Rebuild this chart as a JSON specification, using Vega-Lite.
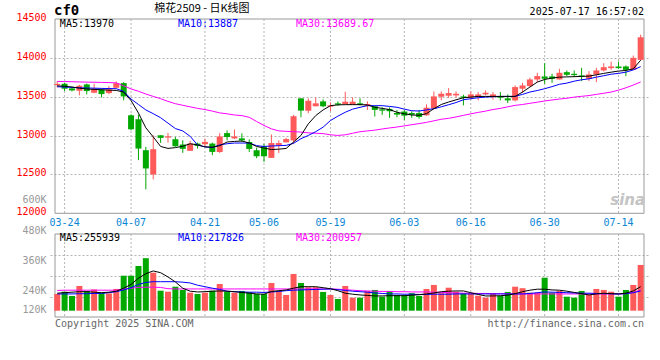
{
"$schema": "https://vega.github.io/schema/vega-lite/v6.json",
"width": 599, "height": 298, "autosize": "none",
"padding": {"left": 50, "top": 19, "right": 11, "bottom": 43},
"background": "white",
"config": {"view": {"stroke": null}},
"datasets": {"kline": [
{"d":"03-21","k":0,"o":13650,"h":13700,"l":13620,"c":13665,"v":227000,"m5":13640,"m10":13628,"m30":13697,"vm5":230000,"vm10":227000,"vm30":241000},
{"d":"03-24","k":1,"o":13667,"h":13680,"l":13573,"c":13603,"v":236000,"m5":13635,"m10":13625,"m30":13695,"vm5":232000,"vm10":227000,"vm30":242000},
{"d":"03-25","k":2,"o":13607,"h":13624,"l":13568,"c":13581,"v":219000,"m5":13625,"m10":13620,"m30":13693,"vm5":234000,"vm10":227000,"vm30":242000},
{"d":"03-26","k":3,"o":13577,"h":13654,"l":13517,"c":13641,"v":259000,"m5":13610,"m10":13615,"m30":13690,"vm5":236000,"vm10":228000,"vm30":242000},
{"d":"03-27","k":4,"o":13658,"h":13670,"l":13530,"c":13573,"v":239000,"m5":13600,"m10":13612,"m30":13688,"vm5":236000,"vm10":228000,"vm30":242000},
{"d":"03-28","k":5,"o":13551,"h":13667,"l":13545,"c":13603,"v":245000,"m5":13594,"m10":13610,"m30":13686,"vm5":234000,"vm10":229000,"vm30":242000},
{"d":"03-31","k":6,"o":13590,"h":13603,"l":13491,"c":13534,"v":232000,"m5":13590,"m10":13607,"m30":13684,"vm5":232000,"vm10":229000,"vm30":242000},
{"d":"04-01","k":7,"o":13547,"h":13637,"l":13534,"c":13594,"v":229000,"m5":13585,"m10":13605,"m30":13682,"vm5":234000,"vm10":232000,"vm30":242000},
{"d":"04-02","k":8,"o":13615,"h":13697,"l":13603,"c":13675,"v":247000,"m5":13581,"m10":13603,"m30":13678,"vm5":238000,"vm10":236000,"vm30":242000},
{"d":"04-03","k":9,"o":13675,"h":13688,"l":13453,"c":13504,"v":300000,"m5":13560,"m10":13570,"m30":13640,"vm5":250000,"vm10":243000,"vm30":246000},
{"d":"04-07","k":10,"o":13261,"h":13274,"l":13068,"c":13081,"v":300000,"m5":13450,"m10":13470,"m30":13600,"vm5":265000,"vm10":252000,"vm30":250000},
{"d":"04-08","k":11,"o":13210,"h":13269,"l":12684,"c":12833,"v":339000,"m5":13290,"m10":13400,"m30":13570,"vm5":290000,"vm10":265000,"vm30":253000},
{"d":"04-09","k":12,"o":12812,"h":12855,"l":12308,"c":12577,"v":370000,"m5":13100,"m10":13330,"m30":13535,"vm5":308000,"vm10":273000,"vm30":254000},
{"d":"04-10","k":13,"o":12500,"h":13004,"l":12436,"c":12825,"v":312000,"m5":12983,"m10":13282,"m30":13504,"vm5":319000,"vm10":276000,"vm30":254000},
{"d":"04-11","k":14,"o":13004,"h":13004,"l":12906,"c":12970,"v":240000,"m5":12860,"m10":13230,"m30":13475,"vm5":312000,"vm10":276000,"vm30":253000},
{"d":"04-14","k":15,"o":12974,"h":13034,"l":12910,"c":12991,"v":236000,"m5":12835,"m10":13160,"m30":13440,"vm5":295000,"vm10":276000,"vm30":248000},
{"d":"04-15","k":16,"o":12953,"h":12983,"l":12855,"c":12863,"v":256000,"m5":12845,"m10":13090,"m30":13410,"vm5":275000,"vm10":276000,"vm30":247000},
{"d":"04-16","k":17,"o":12885,"h":12940,"l":12778,"c":12829,"v":243000,"m5":12863,"m10":13060,"m30":13390,"vm5":250000,"vm10":274000,"vm30":247000},
{"d":"04-17","k":18,"o":12804,"h":12932,"l":12804,"c":12897,"v":232000,"m5":12895,"m10":12990,"m30":13370,"vm5":238000,"vm10":271000,"vm30":247000},
{"d":"04-18","k":19,"o":12897,"h":12910,"l":12833,"c":12867,"v":227000,"m5":12880,"m10":12880,"m30":13350,"vm5":235000,"vm10":262000,"vm30":247000},
{"d":"04-21","k":20,"o":12889,"h":12961,"l":12855,"c":12919,"v":232000,"m5":12855,"m10":12855,"m30":13335,"vm5":236000,"vm10":256000,"vm30":247000},
{"d":"04-22","k":21,"o":12897,"h":12910,"l":12748,"c":12790,"v":240000,"m5":12850,"m10":12846,"m30":13315,"vm5":238000,"vm10":250000,"vm30":247000},
{"d":"04-23","k":22,"o":12789,"h":13032,"l":12777,"c":12989,"v":267000,"m5":12870,"m10":12880,"m30":13292,"vm5":239000,"vm10":245000,"vm30":247000},
{"d":"04-24","k":23,"o":13032,"h":13066,"l":12938,"c":12981,"v":236000,"m5":12917,"m10":12895,"m30":13280,"vm5":238000,"vm10":238000,"vm30":247000},
{"d":"04-25","k":24,"o":12964,"h":13079,"l":12955,"c":12989,"v":232000,"m5":12925,"m10":12904,"m30":13265,"vm5":236000,"vm10":236000,"vm30":247000},
{"d":"04-28","k":25,"o":12964,"h":13028,"l":12917,"c":12938,"v":239000,"m5":12930,"m10":12904,"m30":13257,"vm5":233000,"vm10":235000,"vm30":247000},
{"d":"04-29","k":26,"o":12917,"h":12951,"l":12789,"c":12828,"v":234000,"m5":12905,"m10":12904,"m30":13235,"vm5":230000,"vm10":234000,"vm30":247000},
{"d":"04-30","k":27,"o":12811,"h":12845,"l":12709,"c":12734,"v":227000,"m5":12860,"m10":12870,"m30":13181,"vm5":227000,"vm10":234000,"vm30":247000},
{"d":"05-06","k":28,"o":12862,"h":12896,"l":12662,"c":12734,"v":227000,"m5":12840,"m10":12860,"m30":13130,"vm5":226000,"vm10":233000,"vm30":247000},
{"d":"05-07","k":29,"o":12713,"h":13015,"l":12713,"c":12904,"v":271000,"m5":12820,"m10":12866,"m30":13087,"vm5":237000,"vm10":235000,"vm30":247000},
{"d":"05-08","k":30,"o":12874,"h":12938,"l":12777,"c":12904,"v":240000,"m5":12825,"m10":12870,"m30":13060,"vm5":240000,"vm10":237000,"vm30":247000},
{"d":"05-09","k":31,"o":12913,"h":12972,"l":12913,"c":12955,"v":223000,"m5":12835,"m10":12874,"m30":13055,"vm5":243000,"vm10":240000,"vm30":247000},
{"d":"05-12","k":32,"o":12938,"h":13266,"l":12896,"c":13249,"v":307000,"m5":12917,"m10":12900,"m30":13050,"vm5":250000,"vm10":242000,"vm30":247000},
{"d":"05-13","k":33,"o":13479,"h":13479,"l":13236,"c":13321,"v":271000,"m5":13002,"m10":12960,"m30":13045,"vm5":256000,"vm10":243000,"vm30":247000},
{"d":"05-14","k":34,"o":13321,"h":13479,"l":13287,"c":13449,"v":254000,"m5":13151,"m10":13002,"m30":13035,"vm5":256000,"vm10":244000,"vm30":247000},
{"d":"05-15","k":35,"o":13377,"h":13491,"l":13377,"c":13415,"v":254000,"m5":13257,"m10":13050,"m30":13030,"vm5":256000,"vm10":245000,"vm30":247000},
{"d":"05-16","k":36,"o":13440,"h":13466,"l":13364,"c":13377,"v":235000,"m5":13330,"m10":13108,"m30":13025,"vm5":252000,"vm10":246000,"vm30":247000},
{"d":"05-19","k":37,"o":13372,"h":13428,"l":13313,"c":13389,"v":223000,"m5":13385,"m10":13194,"m30":13010,"vm5":248000,"vm10":247000,"vm30":247000},
{"d":"05-20","k":38,"o":13415,"h":13440,"l":13385,"c":13398,"v":207000,"m5":13395,"m10":13250,"m30":13002,"vm5":240000,"vm10":244000,"vm30":246000},
{"d":"05-21","k":39,"o":13406,"h":13564,"l":13406,"c":13436,"v":259000,"m5":13398,"m10":13300,"m30":13010,"vm5":230000,"vm10":241000,"vm30":244000},
{"d":"05-22","k":40,"o":13398,"h":13491,"l":13398,"c":13436,"v":212000,"m5":13398,"m10":13340,"m30":13030,"vm5":226000,"vm10":238000,"vm30":242000},
{"d":"05-23","k":41,"o":13415,"h":13479,"l":13390,"c":13398,"v":212000,"m5":13398,"m10":13364,"m30":13050,"vm5":223000,"vm10":236000,"vm30":240000},
{"d":"05-26","k":42,"o":13385,"h":13440,"l":13330,"c":13406,"v":239000,"m5":13394,"m10":13385,"m30":13060,"vm5":221000,"vm10":234000,"vm30":239000},
{"d":"05-27","k":43,"o":13377,"h":13377,"l":13245,"c":13330,"v":243000,"m5":13364,"m10":13385,"m30":13070,"vm5":219000,"vm10":231000,"vm30":238000},
{"d":"05-28","k":44,"o":13338,"h":13364,"l":13266,"c":13321,"v":216000,"m5":13350,"m10":13385,"m30":13085,"vm5":219000,"vm10":229000,"vm30":237000},
{"d":"05-29","k":45,"o":13343,"h":13364,"l":13228,"c":13313,"v":239000,"m5":13334,"m10":13375,"m30":13098,"vm5":220000,"vm10":227000,"vm30":237000},
{"d":"05-30","k":46,"o":13291,"h":13330,"l":13236,"c":13270,"v":223000,"m5":13300,"m10":13364,"m30":13110,"vm5":220000,"vm10":227000,"vm30":236000},
{"d":"06-03","k":47,"o":13309,"h":13330,"l":13202,"c":13257,"v":223000,"m5":13280,"m10":13340,"m30":13125,"vm5":220000,"vm10":226000,"vm30":236000},
{"d":"06-04","k":48,"o":13291,"h":13313,"l":13228,"c":13270,"v":230000,"m5":13265,"m10":13320,"m30":13140,"vm5":222000,"vm10":226000,"vm30":235000},
{"d":"06-05","k":49,"o":13290,"h":13330,"l":13218,"c":13240,"v":219000,"m5":13261,"m10":13316,"m30":13154,"vm5":224000,"vm10":225000,"vm30":235000},
{"d":"06-06","k":50,"o":13261,"h":13402,"l":13255,"c":13359,"v":247000,"m5":13282,"m10":13330,"m30":13170,"vm5":227000,"vm10":225000,"vm30":235000},
{"d":"06-09","k":51,"o":13346,"h":13568,"l":13340,"c":13504,"v":263000,"m5":13346,"m10":13346,"m30":13190,"vm5":231000,"vm10":226000,"vm30":234000},
{"d":"06-10","k":52,"o":13500,"h":13568,"l":13453,"c":13538,"v":230000,"m5":13400,"m10":13370,"m30":13210,"vm5":236000,"vm10":226000,"vm30":233000},
{"d":"06-11","k":53,"o":13513,"h":13611,"l":13487,"c":13547,"v":252000,"m5":13432,"m10":13397,"m30":13222,"vm5":238000,"vm10":226000,"vm30":232000},
{"d":"06-12","k":54,"o":13517,"h":13568,"l":13487,"c":13538,"v":236000,"m5":13460,"m10":13425,"m30":13240,"vm5":239000,"vm10":227000,"vm30":231000},
{"d":"06-13","k":55,"o":13504,"h":13526,"l":13389,"c":13487,"v":230000,"m5":13487,"m10":13461,"m30":13260,"vm5":239000,"vm10":227000,"vm30":230000},
{"d":"06-16","k":56,"o":13487,"h":13568,"l":13462,"c":13530,"v":230000,"m5":13495,"m10":13475,"m30":13280,"vm5":232000,"vm10":227000,"vm30":230000},
{"d":"06-17","k":57,"o":13496,"h":13560,"l":13453,"c":13530,"v":220000,"m5":13504,"m10":13487,"m30":13298,"vm5":225000,"vm10":227000,"vm30":229000},
{"d":"06-18","k":58,"o":13530,"h":13581,"l":13517,"c":13551,"v":212000,"m5":13504,"m10":13495,"m30":13315,"vm5":219000,"vm10":227000,"vm30":229000},
{"d":"06-19","k":59,"o":13496,"h":13560,"l":13462,"c":13530,"v":230000,"m5":13504,"m10":13500,"m30":13335,"vm5":219000,"vm10":227000,"vm30":228000},
{"d":"06-20","k":60,"o":13504,"h":13560,"l":13453,"c":13487,"v":219000,"m5":13504,"m10":13504,"m30":13350,"vm5":220000,"vm10":227000,"vm30":228000},
{"d":"06-23","k":61,"o":13479,"h":13530,"l":13419,"c":13453,"v":235000,"m5":13504,"m10":13504,"m30":13370,"vm5":222000,"vm10":227000,"vm30":228000},
{"d":"06-24","k":62,"o":13453,"h":13645,"l":13440,"c":13624,"v":256000,"m5":13504,"m10":13504,"m30":13389,"vm5":228000,"vm10":227000,"vm30":227000},
{"d":"06-25","k":63,"o":13603,"h":13679,"l":13547,"c":13645,"v":250000,"m5":13560,"m10":13530,"m30":13400,"vm5":236000,"vm10":227000,"vm30":227000},
{"d":"06-26","k":64,"o":13637,"h":13744,"l":13624,"c":13722,"v":232000,"m5":13624,"m10":13560,"m30":13415,"vm5":242000,"vm10":229000,"vm30":227000},
{"d":"06-27","k":65,"o":13722,"h":13808,"l":13688,"c":13765,"v":232000,"m5":13688,"m10":13580,"m30":13430,"vm5":246000,"vm10":232000,"vm30":227000},
{"d":"06-30","k":66,"o":13761,"h":13932,"l":13667,"c":13731,"v":292000,"m5":13722,"m10":13603,"m30":13445,"vm5":246000,"vm10":235000,"vm30":227000},
{"d":"07-01","k":67,"o":13761,"h":13795,"l":13679,"c":13731,"v":232000,"m5":13740,"m10":13630,"m30":13458,"vm5":243000,"vm10":234000,"vm30":227000},
{"d":"07-02","k":68,"o":13722,"h":13859,"l":13722,"c":13808,"v":239000,"m5":13752,"m10":13660,"m30":13470,"vm5":242000,"vm10":233000,"vm30":227000},
{"d":"07-03","k":69,"o":13816,"h":13838,"l":13765,"c":13782,"v":216000,"m5":13755,"m10":13675,"m30":13480,"vm5":238000,"vm10":232000,"vm30":227000},
{"d":"07-04","k":70,"o":13795,"h":13838,"l":13752,"c":13778,"v":212000,"m5":13758,"m10":13700,"m30":13495,"vm5":233000,"vm10":231000,"vm30":227000},
{"d":"07-07","k":71,"o":13774,"h":13872,"l":13701,"c":13761,"v":239000,"m5":13761,"m10":13718,"m30":13505,"vm5":228000,"vm10":230000,"vm30":227000},
{"d":"07-08","k":72,"o":13731,"h":13829,"l":13701,"c":13786,"v":223000,"m5":13765,"m10":13730,"m30":13515,"vm5":223000,"vm10":230000,"vm30":227000},
{"d":"07-09","k":73,"o":13786,"h":13872,"l":13688,"c":13838,"v":247000,"m5":13782,"m10":13752,"m30":13530,"vm5":227000,"vm10":229000,"vm30":227000},
{"d":"07-10","k":74,"o":13838,"h":13932,"l":13825,"c":13880,"v":243000,"m5":13800,"m10":13770,"m30":13545,"vm5":230000,"vm10":228000,"vm30":227000},
{"d":"07-11","k":75,"o":13868,"h":13953,"l":13846,"c":13889,"v":236000,"m5":13816,"m10":13790,"m30":13560,"vm5":228000,"vm10":228000,"vm30":227000},
{"d":"07-14","k":76,"o":13889,"h":13953,"l":13859,"c":13868,"v":216000,"m5":13830,"m10":13800,"m30":13585,"vm5":227000,"vm10":227000,"vm30":227000},
{"d":"07-15","k":77,"o":13889,"h":13902,"l":13765,"c":13846,"v":243000,"m5":13838,"m10":13816,"m30":13615,"vm5":230000,"vm10":228000,"vm30":228000},
{"d":"07-16","k":78,"o":13846,"h":14030,"l":13846,"c":14000,"v":263000,"m5":13859,"m10":13845,"m30":13650,"vm5":239000,"vm10":232000,"vm30":233000},
{"d":"07-17","k":79,"o":13974,"h":14299,"l":13966,"c":14265,"v":343000,"m5":13970,"m10":13887,"m30":13690,"vm5":256000,"vm10":239000,"vm30":243000}
]},
"data": {"name": "kline"},
"resolve": {"scale": {"y": "independent"}},
"layer": [
{"layer": [
 {"data": {"values": [{}]},
  "mark": {"type": "rect", "fillOpacity": 0, "stroke": "#999999", "strokeWidth": 1},
  "encoding": {
   "x": {"datum": -0.3, "type": "quantitative", "scale": {"domain": [-0.3, 79.45], "nice": false, "zero": false}, "axis": null},
   "x2": {"datum": 79.45},
   "y": {"datum": 14500, "type": "quantitative", "scale": {"domain": [10665.7, 14500], "nice": false, "zero": false},
    "axis": {"orient": "left", "title": null, "values": [14500, 14000, 13500, 13000, 12500, 12158, 12000], "format": "d",
     "labelExpr": "datum.value == 12158 ? '600K' : datum.label",
     "labelColor": {"condition": {"test": "datum.value == 12158", "value": "#999999"}, "value": "#ff0000"},
     "labelFont": "DejaVu Sans Mono", "labelFontSize": 10, "labelPadding": 4, "labelOffset": -1.5,
     "ticks": false, "domain": false, "grid": true, "gridColor": "#b4b4b4", "gridDash": [2, 2],
     "gridOpacity": {"condition": {"test": "datum.value > 14400 || datum.value < 12400", "value": 0}, "value": 1}}},
   "y2": {"datum": 12000}}},
 {"transform": [{"filter": {"field": "d", "oneOf": ["03-24", "04-07", "04-21", "05-06", "05-19", "06-03", "06-16", "06-30", "07-14"]}}],
  "mark": {"type": "rule", "strokeDash": [2, 2], "color": "#b4b4b4", "strokeWidth": 1},
  "encoding": {
   "x": {"field": "k", "type": "quantitative", "scale": {"domain": [-0.3, 79.45], "nice": false, "zero": false}, "axis": null},
   "y": {"datum": 14500, "type": "quantitative", "scale": {"domain": [10665.7, 14500], "nice": false, "zero": false}},
   "y2": {"datum": 12000}}},
 {"transform": [{"filter": {"field": "d", "oneOf": ["03-24", "04-07", "04-21", "05-06", "05-19", "06-03", "06-16", "06-30", "07-14"]}}],
  "mark": {"type": "text", "font": "DejaVu Sans Mono", "fontSize": 10, "color": "#0a86d6", "align": "center", "baseline": "middle"},
  "encoding": {
   "x": {"field": "k", "type": "quantitative", "scale": {"domain": [-0.3, 79.45], "nice": false, "zero": false}, "axis": null},
   "y": {"datum": 11880, "type": "quantitative", "scale": {"domain": [10665.7, 14500], "nice": false, "zero": false}},
   "text": {"field": "d"}}},
 {"mark": {"type": "rule", "strokeWidth": 1},
  "encoding": {
   "x": {"field": "k", "type": "quantitative", "scale": {"domain": [-0.3, 79.45], "nice": false, "zero": false}, "axis": null},
   "y": {"field": "l", "type": "quantitative", "scale": {"domain": [10665.7, 14500], "nice": false, "zero": false}},
   "y2": {"field": "h"},
   "color": {"condition": {"test": "datum.c >= datum.o", "value": "#ff5a5a"}, "value": "#00a800"}}},
 {"mark": {"type": "bar", "size": 6},
  "encoding": {
   "x": {"field": "k", "type": "quantitative", "scale": {"domain": [-0.3, 79.45], "nice": false, "zero": false}, "axis": null},
   "y": {"field": "o", "type": "quantitative", "scale": {"domain": [10665.7, 14500], "nice": false, "zero": false}},
   "y2": {"field": "c"},
   "color": {"condition": {"test": "datum.c >= datum.o", "value": "#ff5a5a"}, "value": "#00a800"}}},
 {"mark": {"type": "line", "color": "#ff00ff", "strokeWidth": 1},
  "encoding": {
   "x": {"field": "k", "type": "quantitative", "scale": {"domain": [-0.3, 79.45], "nice": false, "zero": false}, "axis": null},
   "y": {"field": "m30", "type": "quantitative", "scale": {"domain": [10665.7, 14500], "nice": false, "zero": false}}}},
 {"mark": {"type": "line", "color": "#0000ff", "strokeWidth": 1},
  "encoding": {
   "x": {"field": "k", "type": "quantitative", "scale": {"domain": [-0.3, 79.45], "nice": false, "zero": false}, "axis": null},
   "y": {"field": "m10", "type": "quantitative", "scale": {"domain": [10665.7, 14500], "nice": false, "zero": false}}}},
 {"mark": {"type": "line", "color": "#000000", "strokeWidth": 1},
  "encoding": {
   "x": {"field": "k", "type": "quantitative", "scale": {"domain": [-0.3, 79.45], "nice": false, "zero": false}, "axis": null},
   "y": {"field": "m5", "type": "quantitative", "scale": {"domain": [10665.7, 14500], "nice": false, "zero": false}}}},
 {"data": {"values": [{}]},
  "mark": {"type": "text", "text": "MA5:13970", "font": "DejaVu Sans Mono", "fontSize": 10, "color": "#000000", "align": "left", "baseline": "middle"},
  "encoding": {"x": {"datum": 0.36, "type": "quantitative", "axis": null}, "y": {"datum": 14436, "type": "quantitative"}}},
 {"data": {"values": [{}]},
  "mark": {"type": "text", "text": "MA10:13887", "font": "DejaVu Sans Mono", "fontSize": 10, "color": "#0000ff", "align": "left", "baseline": "middle"},
  "encoding": {"x": {"datum": 16.34, "type": "quantitative", "axis": null}, "y": {"datum": 14436, "type": "quantitative"}}},
 {"data": {"values": [{}]},
  "mark": {"type": "text", "text": "MA30:13689.67", "font": "DejaVu Sans Mono", "fontSize": 10, "color": "#ff00ff", "align": "left", "baseline": "middle"},
  "encoding": {"x": {"datum": 32.32, "type": "quantitative", "axis": null}, "y": {"datum": 14436, "type": "quantitative"}}},
 {"data": {"values": [{}]},
  "mark": {"type": "text", "text": "cf0", "font": "DejaVu Sans Mono", "fontSize": 14, "fontWeight": "bold", "color": "#000000", "align": "left", "baseline": "middle"},
  "encoding": {"x": {"datum": -0.44, "type": "quantitative", "axis": null}, "y": {"datum": 14603, "type": "quantitative"}}},
 {"data": {"values": [{}]},
  "mark": {"type": "text", "text": "棉花2509 - 日K线图", "font": "Noto Sans CJK SC", "fontSize": 11, "color": "#000000", "align": "center", "baseline": "top"},
  "encoding": {"x": {"datum": 19.6, "type": "quantitative", "axis": null}, "y": {"datum": 14706, "type": "quantitative"}}},
 {"data": {"values": [{}]},
  "mark": {"type": "text", "text": "2025-07-17 16:57:02", "font": "DejaVu Sans Mono", "fontSize": 10, "color": "#000000", "align": "right", "baseline": "middle"},
  "encoding": {"x": {"datum": 79.45, "type": "quantitative", "axis": null}, "y": {"datum": 14590, "type": "quantitative"}}},
 {"data": {"values": [{}]},
  "mark": {"type": "text", "text": "sina", "font": "DejaVu Sans", "fontSize": 15, "fontWeight": "bold", "fontStyle": "italic", "color": "#c4c4c4", "align": "right", "baseline": "middle"},
  "encoding": {"x": {"datum": 79.6, "type": "quantitative", "axis": null}, "y": {"datum": 12171, "type": "quantitative"}}}
]},
{"layer": [
 {"data": {"values": [{}]},
  "mark": {"type": "rect", "fillOpacity": 0, "stroke": "#999999", "strokeWidth": 1},
  "encoding": {
   "x": {"datum": -0.3, "type": "quantitative", "scale": {"domain": [-0.3, 79.45], "nice": false, "zero": false}, "axis": null},
   "x2": {"datum": 79.45},
   "y": {"datum": 466800, "type": "quantitative", "scale": {"domain": [134800, 1326800], "nice": false, "zero": false},
    "axis": {"orient": "left", "title": null, "values": [480000, 382800, 360000, 298800, 240000, 216000, 163000],
     "labelExpr": "datum.value == 163000 ? '120K' : (datum.value == 480000 || datum.value == 360000 || datum.value == 240000) ? format(datum.value / 1000, 'd') + 'K' : ''",
     "labelColor": "#999999", "labelFont": "DejaVu Sans Mono", "labelFontSize": 10, "labelPadding": 4,
     "ticks": false, "domain": false, "grid": true, "gridColor": "#b4b4b4", "gridDash": [2, 2],
     "gridOpacity": {"condition": {"test": "datum.value == 382800 || datum.value == 298800 || datum.value == 216000", "value": 1}, "value": 0}}},
   "y2": {"datum": 134800}}},
 {"transform": [{"filter": {"field": "d", "oneOf": ["03-24", "04-07", "04-21", "05-06", "05-19", "06-03", "06-16", "06-30", "07-14"]}}],
  "mark": {"type": "rule", "strokeDash": [2, 2], "color": "#b4b4b4", "strokeWidth": 1},
  "encoding": {
   "x": {"field": "k", "type": "quantitative", "scale": {"domain": [-0.3, 79.45], "nice": false, "zero": false}, "axis": null},
   "y": {"datum": 466800, "type": "quantitative", "scale": {"domain": [134800, 1326800], "nice": false, "zero": false}},
   "y2": {"datum": 134800}}},
 {"mark": {"type": "bar", "size": 6},
  "encoding": {
   "x": {"field": "k", "type": "quantitative", "scale": {"domain": [-0.3, 79.45], "nice": false, "zero": false}, "axis": null},
   "y": {"field": "v", "type": "quantitative", "scale": {"domain": [134800, 1326800], "nice": false, "zero": false}},
   "y2": {"datum": 160000},
   "color": {"condition": {"test": "datum.c >= datum.o", "value": "#ff5a5a"}, "value": "#00a800"}}},
 {"mark": {"type": "line", "color": "#ff00ff", "strokeWidth": 1},
  "encoding": {
   "x": {"field": "k", "type": "quantitative", "scale": {"domain": [-0.3, 79.45], "nice": false, "zero": false}, "axis": null},
   "y": {"field": "vm30", "type": "quantitative", "scale": {"domain": [134800, 1326800], "nice": false, "zero": false}}}},
 {"mark": {"type": "line", "color": "#0000ff", "strokeWidth": 1},
  "encoding": {
   "x": {"field": "k", "type": "quantitative", "scale": {"domain": [-0.3, 79.45], "nice": false, "zero": false}, "axis": null},
   "y": {"field": "vm10", "type": "quantitative", "scale": {"domain": [134800, 1326800], "nice": false, "zero": false}}}},
 {"mark": {"type": "line", "color": "#000000", "strokeWidth": 1},
  "encoding": {
   "x": {"field": "k", "type": "quantitative", "scale": {"domain": [-0.3, 79.45], "nice": false, "zero": false}, "axis": null},
   "y": {"field": "vm5", "type": "quantitative", "scale": {"domain": [134800, 1326800], "nice": false, "zero": false}}}},
 {"data": {"values": [{}]},
  "mark": {"type": "text", "text": "MA5:255939", "font": "DejaVu Sans Mono", "fontSize": 10, "color": "#000000", "align": "left", "baseline": "middle"},
  "encoding": {"x": {"datum": 0.36, "type": "quantitative", "axis": null}, "y": {"datum": 449600, "type": "quantitative"}}},
 {"data": {"values": [{}]},
  "mark": {"type": "text", "text": "MA10:217826", "font": "DejaVu Sans Mono", "fontSize": 10, "color": "#0000ff", "align": "left", "baseline": "middle"},
  "encoding": {"x": {"datum": 16.34, "type": "quantitative", "axis": null}, "y": {"datum": 449600, "type": "quantitative"}}},
 {"data": {"values": [{}]},
  "mark": {"type": "text", "text": "MA30:200957", "font": "DejaVu Sans Mono", "fontSize": 10, "color": "#ff00ff", "align": "left", "baseline": "middle"},
  "encoding": {"x": {"datum": 32.32, "type": "quantitative", "axis": null}, "y": {"datum": 449600, "type": "quantitative"}}},
 {"data": {"values": [{}]},
  "mark": {"type": "text", "text": "Copyright 2025 SINA.COM", "font": "DejaVu Sans Mono", "fontSize": 10, "color": "#666666", "align": "left", "baseline": "middle"},
  "encoding": {"x": {"datum": -0.3, "type": "quantitative", "axis": null}, "y": {"datum": 108000, "type": "quantitative"}}},
 {"data": {"values": [{}]},
  "mark": {"type": "text", "text": "http://finance.sina.com.cn", "font": "DejaVu Sans Mono", "fontSize": 10, "color": "#666666", "align": "right", "baseline": "middle"},
  "encoding": {"x": {"datum": 79.45, "type": "quantitative", "axis": null}, "y": {"datum": 108000, "type": "quantitative"}}}
]}
]
}
